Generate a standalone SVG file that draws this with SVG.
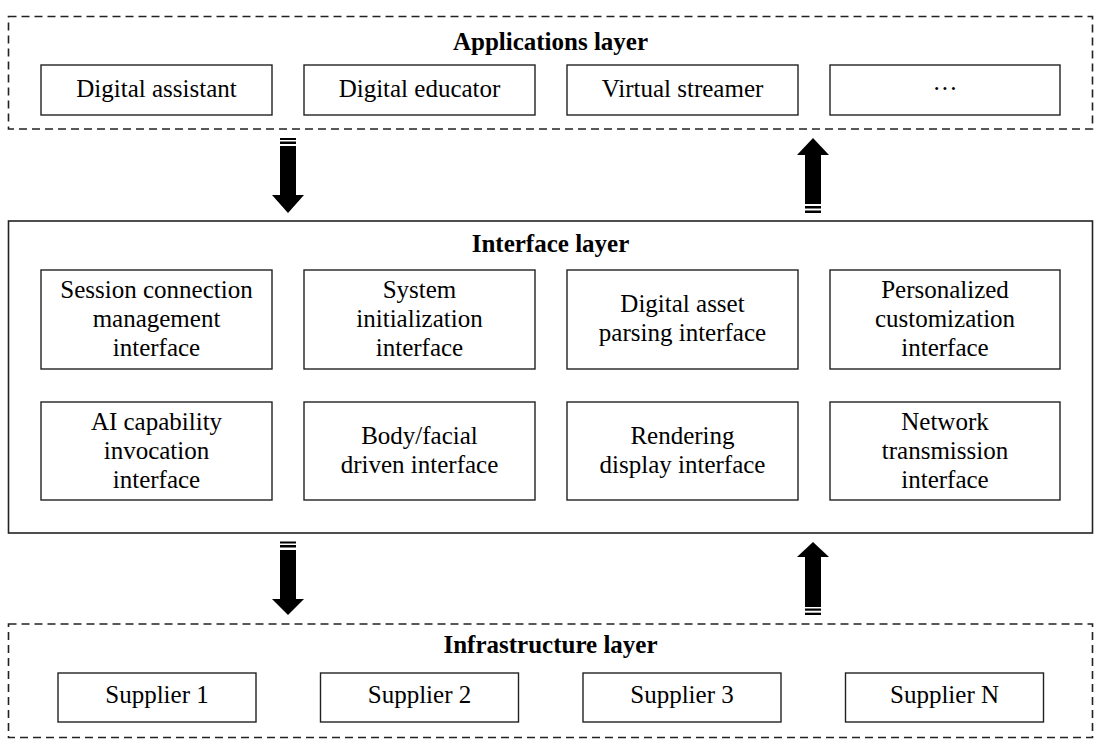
<svg xmlns="http://www.w3.org/2000/svg" width="1103" height="744" viewBox="0 0 1103 744">
<style>
  text { font-family: "Liberation Serif", "Times New Roman", serif; font-size: 25px; fill: #000; text-anchor: middle; }
  .title { font-weight: bold; }
  .layer-dash { fill: none; stroke: #222; stroke-width: 1.6; stroke-dasharray: 8 5; }
  .layer-solid { fill: none; stroke: #222; stroke-width: 1.6; }
  .box { fill: #fff; stroke: #222; stroke-width: 1.4; }
  .arrow { fill: #000; }
</style>
<rect width="1103" height="744" fill="#fff"/>

<g id="applications-layer">
  <rect class="layer-dash" x="8.5" y="16.5" width="1084" height="112.5"/>
  <text class="title" x="550.5" y="50">Applications layer</text>
</g>
<g id="app-digital-assistant">
  <rect class="box" x="41" y="65" width="231" height="50"/>
  <text x="156.5" y="97">Digital assistant</text>
</g>
<g id="app-digital-educator">
  <rect class="box" x="304" y="65" width="231" height="50"/>
  <text x="419.5" y="97">Digital educator</text>
</g>
<g id="app-virtual-streamer">
  <rect class="box" x="567" y="65" width="231" height="50"/>
  <text x="682.5" y="97">Virtual streamer</text>
</g>
<g id="app-more">
  <rect class="box" x="830" y="65" width="230" height="50"/>
  <text x="945" y="97">···</text>
</g>

<g id="interface-layer">
  <rect class="layer-solid" x="8.5" y="221" width="1084" height="312"/>
  <text class="title" x="550.5" y="252">Interface layer</text>
</g>
<g id="if-session">
  <rect class="box" x="41" y="270" width="231" height="99"/>
  <text x="156.5" y="298">Session connection</text>
  <text x="156.5" y="327">management</text>
  <text x="156.5" y="356">interface</text>
</g>
<g id="if-system">
  <rect class="box" x="304" y="270" width="231" height="99"/>
  <text x="419.5" y="298">System</text>
  <text x="419.5" y="327">initialization</text>
  <text x="419.5" y="356">interface</text>
</g>
<g id="if-asset">
  <rect class="box" x="567" y="270" width="231" height="99"/>
  <text x="682.5" y="312">Digital asset</text>
  <text x="682.5" y="341">parsing interface</text>
</g>
<g id="if-custom">
  <rect class="box" x="830" y="270" width="230" height="99"/>
  <text x="945" y="298">Personalized</text>
  <text x="945" y="327">customization</text>
  <text x="945" y="356">interface</text>
</g>
<g id="if-ai">
  <rect class="box" x="41" y="402" width="231" height="98"/>
  <text x="156.5" y="430">AI capability</text>
  <text x="156.5" y="459">invocation</text>
  <text x="156.5" y="488">interface</text>
</g>
<g id="if-body">
  <rect class="box" x="304" y="402" width="231" height="98"/>
  <text x="419.5" y="444">Body/facial</text>
  <text x="419.5" y="473">driven interface</text>
</g>
<g id="if-render">
  <rect class="box" x="567" y="402" width="231" height="98"/>
  <text x="682.5" y="444">Rendering</text>
  <text x="682.5" y="473">display interface</text>
</g>
<g id="if-network">
  <rect class="box" x="830" y="402" width="230" height="98"/>
  <text x="945" y="430">Network</text>
  <text x="945" y="459">transmission</text>
  <text x="945" y="488">interface</text>
</g>

<g id="infrastructure-layer">
  <rect class="layer-dash" x="8.5" y="624" width="1084" height="113.5"/>
  <text class="title" x="550.5" y="653">Infrastructure layer</text>
</g>
<g id="sup-1">
  <rect class="box" x="58" y="673" width="198" height="49"/>
  <text x="157" y="703">Supplier 1</text>
</g>
<g id="sup-2">
  <rect class="box" x="320.5" y="673" width="198" height="49"/>
  <text x="419.5" y="703">Supplier 2</text>
</g>
<g id="sup-3">
  <rect class="box" x="583" y="673" width="198" height="49"/>
  <text x="682" y="703">Supplier 3</text>
</g>
<g id="sup-n">
  <rect class="box" x="845.5" y="673" width="198" height="49"/>
  <text x="944.5" y="703">Supplier N</text>
</g>

<g id="connectors">
  <!-- top down arrow -->
  <g class="arrow">
    <rect x="280" y="138" width="16" height="2"/>
    <rect x="280" y="141.5" width="16" height="2.5"/>
    <rect x="280" y="146" width="16" height="50"/>
    <polygon points="272,195 304,195 288,213"/>
  </g>
  <!-- top up arrow -->
  <g class="arrow">
    <polygon points="797,155 829,155 813,138"/>
    <rect x="805" y="154" width="16" height="50"/>
    <rect x="805" y="206" width="16" height="2.5"/>
    <rect x="805" y="210.5" width="16" height="2.5"/>
  </g>
  <!-- bottom down arrow -->
  <g class="arrow">
    <rect x="280" y="541.5" width="16" height="2"/>
    <rect x="280" y="545" width="16" height="2.5"/>
    <rect x="280" y="550" width="16" height="50"/>
    <polygon points="272,599 304,599 288,615"/>
  </g>
  <!-- bottom up arrow -->
  <g class="arrow">
    <polygon points="797,557 829,557 813,542"/>
    <rect x="805" y="556" width="16" height="51"/>
    <rect x="805" y="608.5" width="16" height="2.2"/>
    <rect x="805" y="612.7" width="16" height="2.3"/>
  </g>
</g>
</svg>
